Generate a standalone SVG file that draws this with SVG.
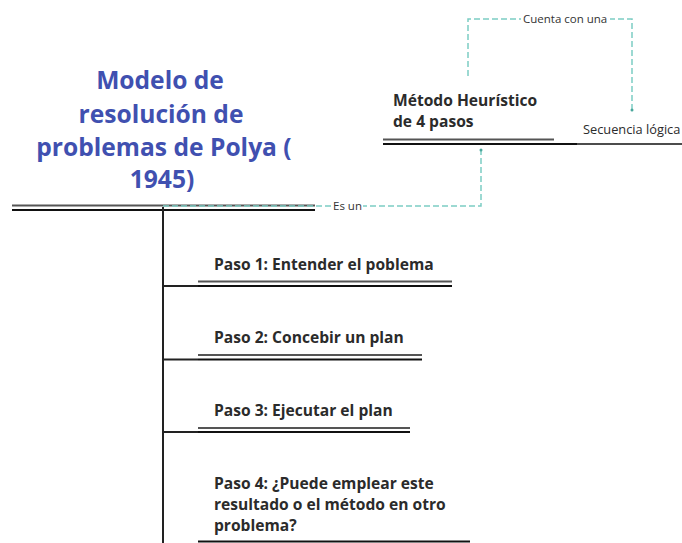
<svg xmlns="http://www.w3.org/2000/svg" width="682" height="543" viewBox="0 0 682 543">
<defs>
<style>
.title{font-family:"Open Sans","Liberation Sans",sans-serif;font-weight:700;font-size:24.6px;fill:#4050b0;text-anchor:middle}
.node{font-family:"Open Sans","Liberation Sans",sans-serif;font-weight:700;font-size:15.6px;fill:#2b2b2b}
.plain{font-family:"Open Sans","Liberation Sans",sans-serif;font-size:12.8px;fill:#2b2b2b}
.lbl{font-family:"Open Sans","Liberation Sans",sans-serif;font-size:11.5px;fill:#333}
.ul1{stroke:#555;stroke-width:2;fill:none}
.ul2{stroke:#111;stroke-width:2;fill:none}
.trunk{stroke:#222;stroke-width:2;fill:none}
.dash{stroke:#7ccdc3;stroke-width:1.5;fill:none;stroke-dasharray:6 3}
</style>
<marker id="dot" viewBox="0 0 4 4" refX="2" refY="2" markerWidth="4" markerHeight="4" markerUnits="userSpaceOnUse">
<circle cx="2" cy="2" r="1.5" fill="#4aa79c"/>
</marker>
</defs>
<rect width="682" height="543" fill="#ffffff"/>

<g id="title">
<text class="title" x="160" y="89">Modelo de</text>
<text class="title" x="161" y="123">resolución de</text>
<text class="title" x="164" y="156">problemas de Polya (</text>
<text class="title" x="162" y="188">1945)</text>
<line class="ul1" x1="12" y1="205.5" x2="315" y2="205.5"/>
<line class="ul2" x1="12" y1="210" x2="315" y2="210"/>
</g>

<g id="metodo">
<text class="node" x="393" y="106">Método Heurístico</text>
<text class="node" x="393" y="127">de 4 pasos</text>
<line class="ul1" x1="383" y1="139.5" x2="554" y2="139.5"/>
<line class="ul2" x1="383" y1="144" x2="577" y2="144"/>
</g>

<g id="secuencia">
<text class="plain" x="583" y="134">Secuencia lógica</text>
<line class="ul2" x1="577" y1="144" x2="682" y2="144" style="stroke-width:1.5"/>
</g>

<g id="paso1">
<text class="node" x="214" y="270">Paso 1: Entender el poblema</text>
<line class="ul1" x1="198" y1="281.5" x2="452" y2="281.5"/>
<line class="ul2" x1="198" y1="286" x2="452" y2="286"/>
</g>

<g id="paso2">
<text class="node" x="214" y="343">Paso 2: Concebir un plan</text>
<line class="ul1" x1="198" y1="355" x2="422" y2="355"/>
<line class="ul2" x1="198" y1="359.5" x2="422" y2="359.5"/>
</g>

<g id="paso3">
<text class="node" x="214" y="416">Paso 3: Ejecutar el plan</text>
<line class="ul1" x1="198" y1="428" x2="410" y2="428"/>
<line class="ul2" x1="198" y1="432" x2="410" y2="432"/>
</g>

<g id="paso4">
<text class="node" x="214" y="489">Paso 4: ¿Puede emplear este</text>
<text class="node" x="214" y="510">resultado o el método en otro</text>
<text class="node" x="214" y="531">problema?</text>
<line class="ul2" x1="198" y1="541.5" x2="470" y2="541.5"/>
</g>

<g id="connectors">
<line class="trunk" x1="163" y1="207" x2="163" y2="543"/>
<line class="trunk" x1="163" y1="286" x2="198" y2="286"/>
<line class="trunk" x1="163" y1="359.5" x2="198" y2="359.5"/>
<line class="trunk" x1="163" y1="432" x2="198" y2="432"/>
<path class="dash" d="M163 206 H481 V150" marker-end="url(#dot)"/>
<rect x="331" y="200" width="32" height="13" fill="#ffffff"/>
<text class="lbl" x="333" y="210">Es un</text>
<path class="dash" d="M468 76 V19 H632 V110" marker-end="url(#dot)"/>
<rect x="521" y="12" width="89" height="14" fill="#ffffff"/>
<text class="lbl" x="523" y="23">Cuenta con una</text>
</g>
</svg>
